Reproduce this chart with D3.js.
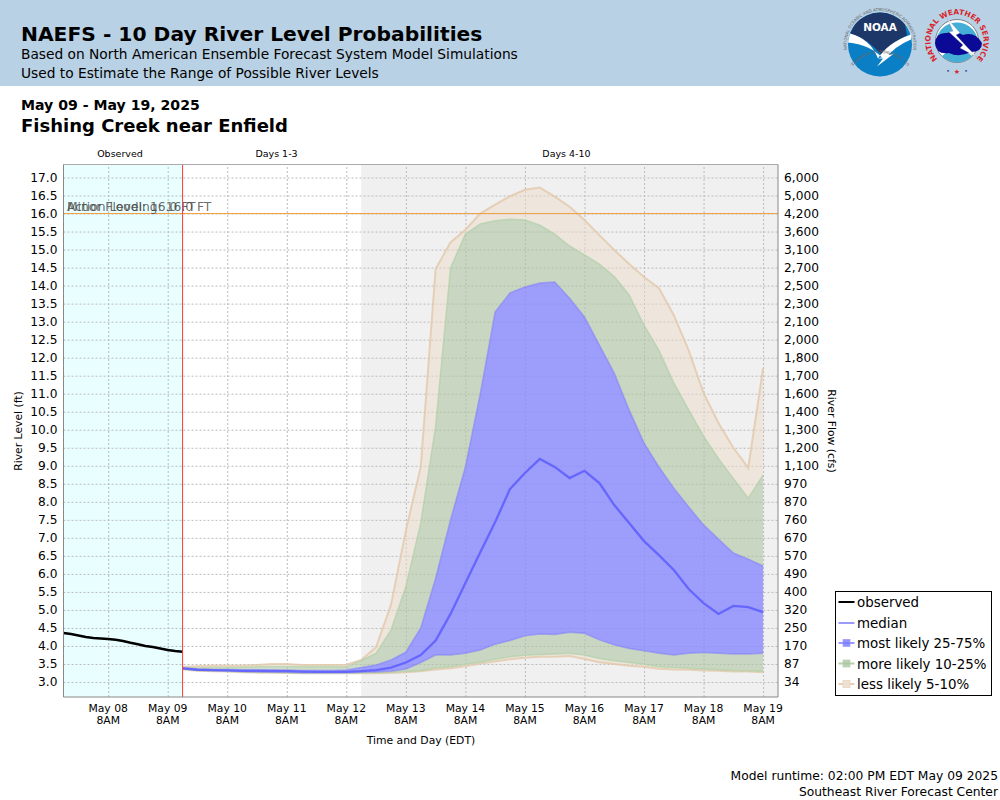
<!DOCTYPE html>
<html>
<head>
<meta charset="utf-8">
<script src="https://d3js.org/d3.v7.min.js"></script>
<style>
  body { margin: 0; background: #fff; }
  text { font-family: "DejaVu Sans", sans-serif; fill: #000; }
  .grid line { stroke: #bbb; stroke-dasharray: 2,2; }
  .grid .domain { display: none; }
  .axis .domain { display: none; }
  .axis line { display: none; }
  .axis text { fill: #000; }
</style>
</head>
<body>
<svg id="chart" width="1000" height="800"></svg>
<script>
// river level stages in ft, one per 6 hours from May 09 2PM
var top5 = [3.42,3.44,3.45,3.45,3.45,3.47,3.5,3.5,3.47,3.47,3.47,3.48,3.61,3.97,5.14,7.2,8.97,14.46,15.2,15.55,16.0,16.25,16.48,16.66,16.72,16.47,16.19,15.82,15.4,14.99,14.6,14.24,13.93,13.18,12.2,11.02,10.19,9.5,8.94,11.71];
var top10 = [3.4,3.39,3.4,3.4,3.41,3.42,3.43,3.43,3.42,3.42,3.42,3.42,3.59,3.8,4.44,5.65,7.41,10.1,14.49,15.43,15.71,15.8,15.84,15.82,15.68,15.43,15.1,14.85,14.6,14.25,13.74,12.9,12.2,11.3,10.55,9.82,9.2,8.65,8.1,8.74];
var top25 = [3.39,3.36,3.35,3.35,3.34,3.34,3.34,3.33,3.32,3.32,3.32,3.33,3.4,3.47,3.61,3.83,4.5,5.88,7.5,8.97,11.0,13.27,13.8,13.96,14.07,14.1,13.65,13.13,12.35,11.57,10.55,9.63,8.97,8.38,7.86,7.36,6.97,6.58,6.41,6.22];
var median = [3.38,3.34,3.33,3.32,3.31,3.31,3.3,3.3,3.29,3.28,3.28,3.28,3.3,3.33,3.4,3.54,3.75,4.15,4.89,5.75,6.6,7.44,8.36,8.8,9.19,8.97,8.66,8.86,8.52,7.91,7.41,6.91,6.52,6.11,5.58,5.19,4.89,5.11,5.08,4.94];
var bot25 = [3.37,3.33,3.32,3.31,3.29,3.28,3.28,3.27,3.26,3.26,3.26,3.26,3.27,3.28,3.3,3.36,3.54,3.75,3.75,3.8,3.89,4.05,4.15,4.28,4.33,4.32,4.38,4.35,4.17,4.03,3.93,3.87,3.8,3.75,3.8,3.82,3.8,3.78,3.78,3.8];
var bot10 = [3.36,3.32,3.31,3.3,3.28,3.27,3.27,3.26,3.25,3.25,3.25,3.25,3.25,3.26,3.27,3.29,3.32,3.39,3.42,3.49,3.55,3.63,3.7,3.74,3.76,3.78,3.8,3.75,3.65,3.59,3.54,3.49,3.42,3.4,3.38,3.36,3.34,3.32,3.31,3.3];
var bot5 = [3.35,3.31,3.3,3.29,3.27,3.26,3.26,3.25,3.24,3.24,3.24,3.24,3.24,3.24,3.25,3.27,3.3,3.35,3.38,3.44,3.51,3.57,3.63,3.67,3.7,3.7,3.72,3.64,3.55,3.5,3.45,3.42,3.37,3.35,3.34,3.32,3.31,3.29,3.29,3.27];

// observed stage, one per 3 hours from May 07 2PM
var observed = [4.36,4.33,4.29,4.25,4.22,4.21,4.19,4.17,4.14,4.09,4.05,4.0,3.97,3.93,3.89,3.86,3.84];

var stageTicks = [3,3.5,4,4.5,5,5.5,6,6.5,7,7.5,8,8.5,9,9.5,10,10.5,11,11.5,12,12.5,13,13.5,14,14.5,15,15.5,16,16.5,17];
var flowLabels = ['34','87','170','250','320','400','490','570','670','760','870','970','1,100','1,200','1,300','1,400','1,600','1,700','1,800','2,000','2,100','2,300','2,500','2,700','3,100','3,600','4,200','5,000','6,000'];
var dayTicks = [8,9,10,11,12,13,14,15,16,17,18,19];
var legendNames = ['observed','median','most likely 25-75%','more likely 10-25%','less likely 5-10%'];

var start = Date.UTC(2025,4,7,14), end = Date.UTC(2025,4,19,14);
var now = Date.UTC(2025,4,9,14), day4 = Date.UTC(2025,4,12,14);
var THREEH = 3*3600*1000, SIXH = 6*3600*1000;

var left = 63.5, right = 778, plotTop = 164.5, plotBottom = 697;
var svg = d3.select('#chart');

var x = d3.scaleUtc().domain([start,end]).range([left,right]);
var y = d3.scaleLinear().domain([3,17]).range([682,177.5]);

// header
svg.append('rect').attr('width',1000).attr('height',86).attr('fill','#b9d1e4');
svg.append('text').attr('x',21).attr('y',41).attr('font-size',20.25).attr('font-weight','bold').text('NAEFS - 10 Day River Level Probabilities');
svg.append('text').attr('x',21).attr('y',59).attr('font-size',13.75).text('Based on North American Ensemble Forecast System Model Simulations');
svg.append('text').attr('x',21).attr('y',78).attr('font-size',13.75).text('Used to Estimate the Range of Possible River Levels');
svg.append('text').attr('x',21).attr('y',110).attr('font-size',14.1).attr('font-weight','bold').text('May 09 - May 19, 2025');
svg.append('text').attr('x',21).attr('y',132).attr('font-size',18).attr('font-weight','bold').text('Fishing Creek near Enfield');

drawNoaa(880,44.5);
drawNws(957,41);

// backgrounds
svg.append('rect').attr('x',left).attr('y',plotTop).attr('width',x(now)-left).attr('height',plotBottom-plotTop).attr('fill','#e9ffff');
svg.append('rect').attr('x',x(day4)).attr('y',plotTop).attr('width',right-x(day4)).attr('height',plotBottom-plotTop).attr('fill','#f0f0f0');

// section labels
[['Observed',120],['Days 1-3',276.5],['Days 4-10',566.5]].forEach(function(d) {
  svg.append('text').attr('x',d[1]).attr('y',157).attr('text-anchor','middle').attr('font-size',9.5).text(d[0]);
});

// grid
var dayDates = dayTicks.map(function(d) { return new Date(Date.UTC(2025,4,d,8)); });
svg.append('g').attr('class','grid').attr('transform','translate(0,'+plotBottom+')')
  .call(d3.axisBottom(x).tickValues(dayDates).tickSize(-(plotBottom-plotTop)).tickFormat(''));
svg.append('g').attr('class','grid').attr('transform','translate('+left+',0)')
  .call(d3.axisLeft(y).tickValues(stageTicks).tickSize(-(right-left)).tickFormat(''));

// bands
var forecast = median.map(function(d,i) {
  return { t: now+i*SIXH, top5: top5[i], top10: top10[i], top25: top25[i], med: d, bot25: bot25[i], bot10: bot10[i], bot5: bot5[i] };
});

function band(hi, lo, fill) {
  var area = d3.area().x(function(d) { return x(d.t); })
    .y0(function(d) { return y(d[lo]); }).y1(function(d) { return y(d[hi]); });
  svg.append('path').datum(forecast).attr('d',area).attr('fill',fill).attr('stroke','none');
}
function edge(key, color, w) {
  var line = d3.line().x(function(d) { return x(d.t); }).y(function(d) { return y(d[key]); });
  svg.append('path').datum(forecast).attr('d',line).attr('fill','none').attr('stroke',color).attr('stroke-width',w);
}

band('top5','top10','rgba(236,220,200,0.5)');
band('bot10','bot5','rgba(236,220,200,0.5)');
band('top10','top25','rgba(173,197,163,0.6)');
band('bot25','bot10','rgba(173,197,163,0.6)');
band('top25','bot25','rgba(136,136,255,0.8)');

edge('top5','rgba(226,200,170,0.8)',2);
edge('bot5','rgba(226,200,170,0.8)',2);
edge('top10','rgba(176,208,166,0.7)',1.5);
edge('bot10','rgba(176,208,166,0.7)',1.5);
edge('top25','rgba(120,120,250,0.5)',1.5);
edge('bot25','rgba(120,120,250,0.5)',1.5);
edge('med','#6666ff',2.3);

// observed line
var obsLine = d3.line().x(function(d,i) { return x(start+i*THREEH); }).y(function(d) { return y(d); });
svg.append('path').datum(observed).attr('d',obsLine).attr('fill','none').attr('stroke','#000').attr('stroke-width',2.5);

// flood level
svg.append('line').attr('x1',left).attr('x2',right).attr('y1',y(16)).attr('y2',y(16)).attr('stroke','#f0a040').attr('stroke-width',1);
['Action Level: 16.0 FT','Minor Flooding: 16.0 FT'].forEach(function(t) {
  svg.append('text').attr('x',67).attr('y',y(16)-2.5).attr('font-size',12.3).style('fill','#444').attr('fill-opacity',0.8).text(t);
});

// now line
svg.append('line').attr('x1',x(now)).attr('x2',x(now)).attr('y1',plotTop).attr('y2',plotBottom).attr('stroke','#f33').attr('stroke-width',1);

// frame
svg.append('line').attr('x1',left).attr('x2',right).attr('y1',plotTop).attr('y2',plotTop).attr('stroke','#aaa');
svg.append('line').attr('x1',left).attr('x2',right).attr('y1',plotBottom).attr('y2',plotBottom).attr('stroke','#888');
svg.append('line').attr('x1',left).attr('x2',left).attr('y1',plotTop).attr('y2',plotBottom).attr('stroke','#888');
svg.append('line').attr('x1',right).attr('x2',right).attr('y1',plotTop).attr('y2',plotBottom).attr('stroke','#888');

// axes
svg.append('g').attr('class','axis').attr('transform','translate('+left+',0)')
  .call(d3.axisLeft(y).tickValues(stageTicks).tickSize(0).tickPadding(6).tickFormat(d3.format('.1f')))
  .selectAll('text').attr('font-size',12.2).attr('font-family','"DejaVu Sans"');
svg.append('g').attr('class','axis').attr('transform','translate('+right+',0)')
  .call(d3.axisRight(y).tickValues(stageTicks).tickSize(0).tickPadding(6).tickFormat(function(d,i) { return flowLabels[i]; }))
  .selectAll('text').attr('font-size',12.2).attr('font-family','"DejaVu Sans"');

var xLabels = svg.append('g').selectAll('g').data(dayTicks).enter().append('g')
  .attr('transform',function(d) { return 'translate('+x(Date.UTC(2025,4,d,8))+',0)'; });
xLabels.append('text').attr('y',712).attr('text-anchor','middle').attr('font-size',10.8)
  .text(function(d) { return 'May '+d3.format('02')(d); });
xLabels.append('text').attr('y',724).attr('text-anchor','middle').attr('font-size',10.8).text('8AM');

svg.append('text').attr('x',421).attr('y',744).attr('text-anchor','middle').attr('font-size',10.8).text('Time and Day (EDT)');
svg.append('text').attr('transform','translate(22,431) rotate(-90)').attr('text-anchor','middle').attr('font-size',10.8).text('River Level (ft)');
svg.append('text').attr('transform','translate(828,431) rotate(90)').attr('text-anchor','middle').attr('font-size',10.8).text('River Flow (cfs)');

// legend
var legendColors = ['#000','#9a9aff','#9a9aff','#b4d0ac','#e6d0b8'];
var legendFill = [null,null,'rgba(120,120,255,0.8)','rgba(173,197,163,0.8)','rgba(236,225,210,1)'];
svg.append('rect').attr('x',835.5).attr('y',591.5).attr('width',156).attr('height',104).attr('fill','#fff').attr('stroke','#000');
var rows = svg.append('g').selectAll('g').data(legendNames).enter().append('g')
  .attr('transform',function(d,i) { return 'translate(0,'+[602,623,643,663.5,684][i]+')'; });
rows.append('line').attr('x1',838.5).attr('x2',854.5).attr('stroke',function(d,i) { return legendColors[i]; }).attr('stroke-width',2);
rows.filter(function(d,i) { return legendFill[i]; }).append('rect').attr('x',843).attr('y',-3.5).attr('width',7).attr('height',7)
  .attr('fill',function(d) { return legendFill[legendNames.indexOf(d)]; })
  .attr('stroke',function(d) { return legendColors[legendNames.indexOf(d)]; }).attr('stroke-width',0.7);
rows.append('text').attr('x',857).attr('y',5).attr('font-size',13.4).text(function(d) { return d; });

// footer
svg.append('text').attr('x',998).attr('y',780).attr('text-anchor','end').attr('font-size',12.3).text('Model runtime: 02:00 PM EDT May 09 2025');
svg.append('text').attr('x',998).attr('y',796).attr('text-anchor','end').attr('font-size',12.3).text('Southeast River Forecast Center');

// logos
function arcPoint(r, deg) {
  var a = deg*Math.PI/180;
  return (r*Math.sin(a))+','+(-r*Math.cos(a));
}
// text running clockwise over the top of a circle, between two angles from 12 o'clock
function ringTop(g, id, r, from, to, txt, size, color, bold) {
  g.append('path').attr('id',id).attr('fill','none')
    .attr('d','M'+arcPoint(r,from)+' A'+r+','+r+' 0 1 1 '+arcPoint(r,to));
  g.append('text').attr('font-size',size).attr('text-anchor','middle').attr('font-weight',bold ? 'bold' : 'normal').style('fill',color)
    .append('textPath').attr('href','#'+id).attr('startOffset','50%').text(txt);
}
// text running counter clockwise under a circle
function ringBottom(g, id, r, from, to, txt, size, color) {
  g.append('path').attr('id',id).attr('fill','none')
    .attr('d','M'+arcPoint(r,from)+' A'+r+','+r+' 0 0 0 '+arcPoint(r,to));
  g.append('text').attr('font-size',size).attr('text-anchor','middle').style('fill',color)
    .append('textPath').attr('href','#'+id).attr('startOffset','50%').text(txt);
}
function drawNoaa(cx, cy) {
  var g = svg.append('g').attr('transform','translate('+cx+','+cy+')');
  g.append('circle').attr('r',32).attr('fill','#0a7fc6');
  g.append('path').attr('d','M-25,-20 A32,32 0 0 1 25,-20 L27,-9 Q14,-4 3,12 Q-12,-6 -30,-11 Z').attr('fill','#1d3768');
  g.append('path').attr('d','M-30,-11 Q-10,-6 -2,14 L14,9 L-3,22 L3,14 Q-10,0 -32,-2 Z M-2,14 Q8,-2 31,-10 L31,-5 Q14,2 6,14 Z').attr('fill','#fff');
  g.append('text').attr('y',-14).attr('text-anchor','middle').attr('font-size',10.5).attr('font-weight','bold').style('fill','#fff').text('NOAA');
  ringTop(g,'noaaTop',33.5,-125,125,'NATIONAL OCEANIC AND ATMOSPHERIC ADMINISTRATION',4,'#666',false);
  ringBottom(g,'noaaBot',37.5,125,-125,'U.S. DEPARTMENT OF COMMERCE',4,'#666');
}
function drawNws(cx, cy) {
  var g = svg.append('g').attr('transform','translate('+cx+','+cy+')');
  g.append('circle').attr('r',21.5).attr('fill','#fff').attr('stroke','#222').attr('stroke-width',0.5);
  g.append('path').attr('d','M-20,-4 A21,21 0 0 1 20,-4 Z').attr('fill','#45aed6');
  g.append('path').attr('d','M-15,15 A21,21 0 0 0 15,15 L10,11 L-10,11 Z').attr('fill','#45aed6');
  g.append('path').attr('d','M-22,2 Q-21,-9 -10,-8 Q-2,-12 6,-6 Q18,-10 25,2 Q25,11 14,11 Q2,17 -8,12 Q-21,14 -22,2 Z').attr('fill','#0a0a96');
  g.append('path').attr('d','M-10,-23 L3,-8 L-1,-6 L10,6 L20,16 L3,7 L6,4 L-8,-9 L-4,-10 Z').attr('fill','#fff').attr('stroke','#889').attr('stroke-width',0.3);
  ringTop(g,'nwsRing',26.5,-132,132,'NATIONAL WEATHER SERVICE',7.4,'#d8232a',true);
  g.append('text').attr('y',33).attr('text-anchor','middle').attr('font-size',7).style('fill','#d8232a').text('\u2605');
  g.append('text').attr('x',-9).attr('y',32).attr('text-anchor','middle').attr('font-size',6).style('fill','#2a3a9a').text('\u2022');
  g.append('text').attr('x',9).attr('y',32).attr('text-anchor','middle').attr('font-size',6).style('fill','#2a3a9a').text('\u2022');
}
</script>
</body>
</html>
